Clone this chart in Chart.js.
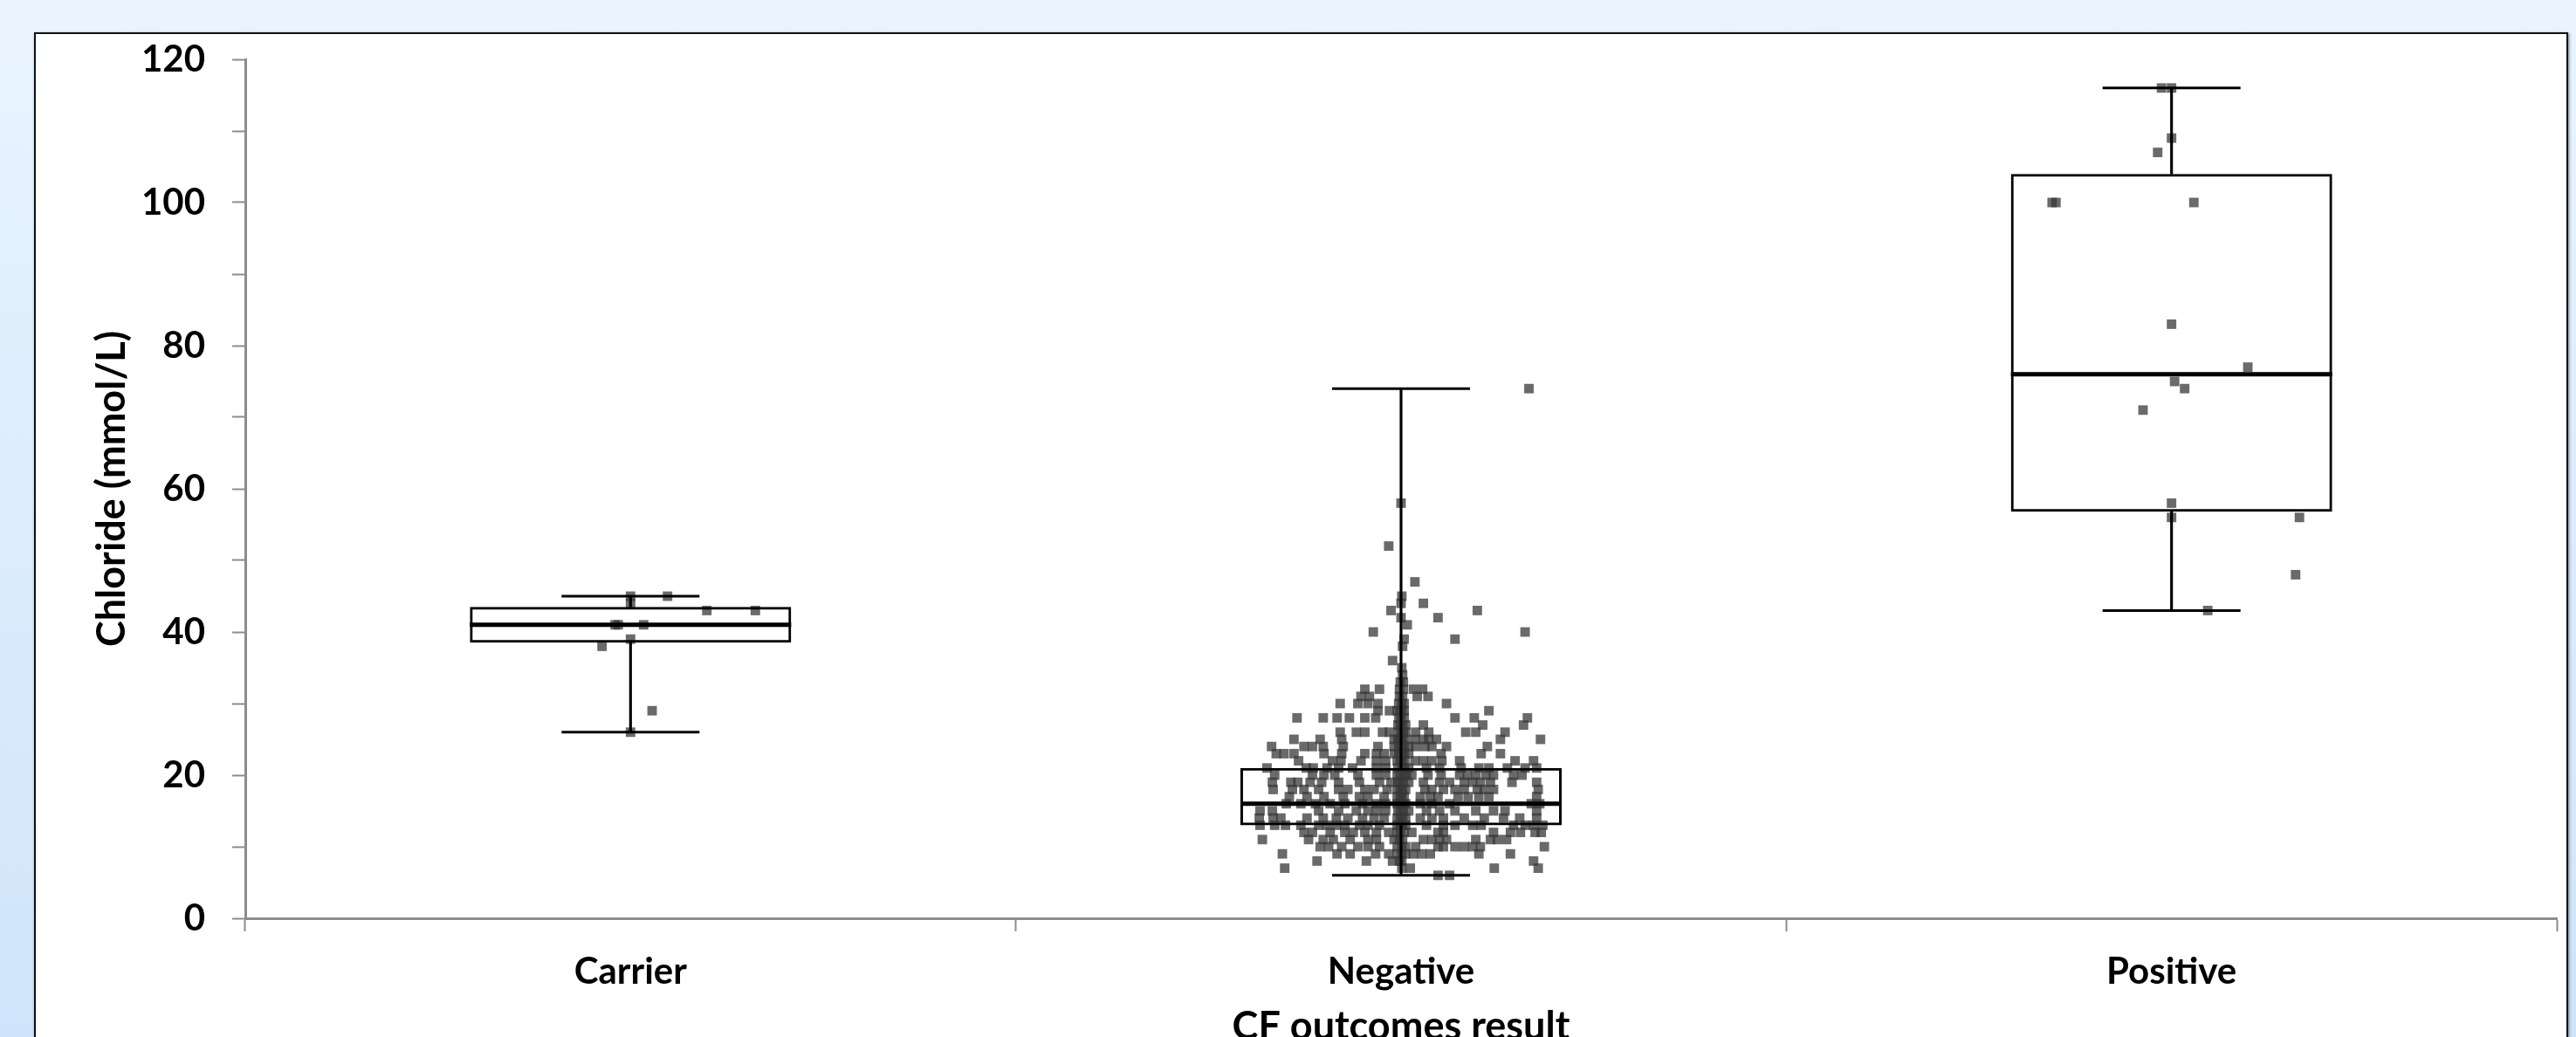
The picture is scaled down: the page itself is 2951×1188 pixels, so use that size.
<!DOCTYPE html>
<html>
<head>
<meta charset="utf-8">
<script src="https://cdn.jsdelivr.net/npm/chart.js@4.4.1/dist/chart.umd.min.js"></script>
<style>
  html, body { margin: 0; padding: 0; width: 2951px; height: 1188px; overflow: hidden; }
  body { position: relative; background: linear-gradient(to bottom, #e9f4fe 0%, #cfe4fa 100%); }
  #panel {
    position: absolute; left: 39px; top: 37px; width: 2903px; height: 1200px;
    box-sizing: border-box; background: #fff; border: 2px solid #111;
    box-shadow: 1px 1px 3px rgba(0,0,0,0.5);
  }
  #chart { position: absolute; left: 0; top: 0; }
</style>
</head>
<body>
<div id="panel"></div>
<canvas id="chart" width="2951" height="1230"></canvas>
<script>
// categories and box summary (mmol/L)
const categories = ['Carrier', 'Negative', 'Positive'];
const whiskerLow = [26, 6, 43];
const quartile1 = [38.5, 13, 56.8];
const medians = [41, 16, 76];
const quartile3 = [43.5, 21, 104];
const whiskerHigh = [45, 74, 116];

const yLabels = [0, 20, 40, 60, 80, 100, 120];

// individual results, jitter is a fraction of the category width
const carrierValues = [45, 45, 44, 43, 43, 41, 41, 41, 39, 38, 29, 26];
const carrierJitter = [0, 0.048, 0, 0.099, 0.162, -0.02, -0.016, 0.017, 0, -0.037, 0.028, 0];

const positiveValues = [116, 116, 109, 107, 100, 100, 100, 83, 77, 75, 74, 71, 58, 56, 56, 48, 43];
const positiveJitter = [-0.013, 0, 0, -0.018, -0.155, -0.15, 0.029, 0, 0.099, 0.004, 0.017, -0.037, 0, 0, 0.166, 0.161, 0.047];

// negative group, one row per chloride level
const negativeLevels = [74, 58, 52, 47, 45, 44, 43, 42, 41, 40, 39, 38, 36, 35, 34, 33, 32, 31, 30, 29, 28, 27,
  26, 25, 24, 23, 22, 21, 20, 19, 18, 17, 16, 15, 14, 13, 12, 11, 10, 9, 8, 7, 6];
const negativeJitter = [
  [0.166],
  [0],
  [-0.016],
  [0.018],
  [0.001],
  [0, 0.029],
  [-0.013, 0.099],
  [0, 0.048],
  [0.008],
  [-0.036, 0.161],
  [0.004, 0.070],
  [0.002],
  [-0.011],
  [0.001],
  [0.002],
  [-0.001, 0.003],
  [-0.047, -0.028, -0.002, 0.003, 0.016, 0.028],
  [-0.052, -0.041, -0.002, 0.002, 0.021, 0.035],
  [-0.079, -0.056, -0.043, -0.030, -0.003, 0.001, 0.004, 0.059],
  [-0.030, -0.015, -0.005, -0.002, 0.001, 0.004, 0.114],
  [-0.135, -0.101, -0.083, -0.067, -0.047, -0.033, -0.003, 0, 0.004, 0.070, 0.095, 0.164],
  [-0.004, -0.001, 0.002, 0.006, 0.029, 0.106, 0.159],
  [-0.079, -0.058, -0.047, -0.024, -0.015, -0.003, 0, 0.003, 0.006, 0.019, 0.036, 0.084, 0.097, 0.135],
  [-0.139, -0.105, -0.077, -0.009, -0.004, -0.001, 0.002, 0.006, 0.018, 0.029, 0.036, 0.046, 0.129, 0.181],
  [-0.168, -0.126, -0.115, -0.101, -0.075, -0.030, -0.009, -0.003, 0.001, 0.004, 0.010, 0.019, 0.031, 0.040, 0.059, 0.112],
  [-0.162, -0.152, -0.139, -0.100, -0.077, -0.047, -0.032, -0.022, -0.009, -0.003, 0.001, 0.004, 0.010, 0.052, 0.104, 0.129],
  [-0.133, -0.089, -0.078, -0.052, -0.032, -0.020, -0.005, -0.001, 0.002, 0.005, 0.018, 0.029, 0.040, 0.053, 0.076, 0.148, 0.172],
  [-0.174, -0.123, -0.114, -0.096, -0.081, -0.063, -0.032, -0.020, -0.004, 0.001, 0.004, 0.010, 0.033, 0.050, 0.078, 0.101, 0.114, 0.138, 0.161, 0.176],
  [-0.164, -0.115, -0.100, -0.086, -0.056, -0.032, -0.020, -0.005, -0.001, 0.004, 0.007, 0.014, 0.035, 0.052, 0.076, 0.086, 0.097, 0.110, 0.120, 0.146, 0.157],
  [-0.167, -0.143, -0.134, -0.118, -0.103, -0.081, -0.054, -0.028, -0.013, -0.004, -0.001, 0.003, 0.010, 0.029, 0.050, 0.063, 0.082, 0.093, 0.103, 0.116, 0.144, 0.176],
  [-0.166, -0.141, -0.126, -0.107, -0.081, -0.069, -0.047, -0.035, -0.018, -0.005, -0.001, 0.002, 0.006, 0.031, 0.040, 0.055, 0.070, 0.082, 0.099, 0.108, 0.120, 0.178],
  [-0.145, -0.122, -0.100, -0.075, -0.054, -0.043, -0.022, -0.005, -0.001, 0.001, 0.004, 0.025, 0.038, 0.048, 0.074, 0.087, 0.101, 0.114, 0.176],
  [-0.149, -0.130, -0.111, -0.092, -0.073, -0.050, -0.032, -0.020, -0.005, -0.001, 0.002, 0.006, 0.025, 0.040, 0.063, 0.169, 0.180],
  [-0.183, -0.167, -0.107, -0.081, -0.058, -0.043, -0.032, -0.020, -0.004, -0.001, 0.003, 0.010, 0.033, 0.050, 0.070, 0.097, 0.120, 0.135, 0.176],
  [-0.184, -0.166, -0.156, -0.122, -0.101, -0.084, -0.069, -0.050, -0.035, -0.022, -0.005, -0.001, 0.002, 0.006, 0.025, 0.040, 0.055, 0.082, 0.108, 0.133, 0.154, 0.176],
  [-0.183, -0.164, -0.150, -0.130, -0.107, -0.096, -0.084, -0.073, -0.054, -0.043, -0.028, -0.005, -0.001, 0.002, 0.006, 0.033, 0.055, 0.070, 0.093, 0.104, 0.146, 0.161, 0.172, 0.184],
  [-0.126, -0.115, -0.092, -0.073, -0.062, -0.047, -0.032, -0.016, -0.005, -0.001, 0.004, 0.014, 0.048, 0.055, 0.120, 0.142, 0.155, 0.174, 0.182],
  [-0.180, -0.120, -0.101, -0.088, -0.066, -0.043, -0.032, -0.009, -0.002, 0.002, 0.029, 0.040, 0.050, 0.059, 0.097, 0.116, 0.125, 0.137],
  [-0.105, -0.094, -0.077, -0.056, -0.043, -0.028, -0.005, 0.001, 0.006, 0.019, 0.048, 0.055, 0.070, 0.082, 0.093, 0.103, 0.186],
  [-0.154, -0.083, -0.066, -0.033, -0.016, -0.005, 0.001, 0.006, 0.016, 0.027, 0.038, 0.101, 0.142],
  [-0.109, -0.045, -0.011, -0.002, 0.001, 0.172],
  [-0.151, 0.001, 0.012, 0.121, 0.178],
  [0.048, 0.063]
];

function toPoints(catIndex, values, jitter) {
  return values.map((v, i) => ({ x: catIndex + 0.5 + jitter[i], y: v }));
}

var negativePoints = [];
negativeLevels.forEach((level, r) => {
  negativeJitter[r].forEach(j => negativePoints.push({ x: 1.5 + j, y: level }));
});

const labelFont = { family: 'Lato', weight: 'bold', size: 42 };
const titleFont = { family: 'Lato', weight: 'bold', size: 45 };
const axisGrey = '#8c8c8c';

const dots = {
  type: 'scatter',
  xAxisID: 'xj',
  pointStyle: 'rect',
  pointRadius: 7.7,
  pointBackgroundColor: 'rgba(56,56,56,0.75)',
  pointBorderWidth: 0,
  order: 2
};

var ctx = document.getElementById('chart').getContext('2d');

var chart = new Chart(ctx, {
  type: 'bar',
  data: {
    labels: categories,
    datasets: [
      {
        label: 'IQR',
        data: categories.map((c, i) => [quartile1[i], quartile3[i]]),
        backgroundColor: 'rgba(255,255,255,0)',
        borderColor: '#000',
        borderWidth: 3,
        borderSkipped: false,
        barPercentage: 0.417,
        categoryPercentage: 1,
        grouped: false,
        order: 0
      },
      {
        label: 'upper whisker',
        data: categories.map((c, i) => [quartile3[i], whiskerHigh[i]]),
        backgroundColor: '#000',
        barThickness: 2.5,
        grouped: false,
        order: 0
      },
      {
        label: 'lower whisker',
        data: categories.map((c, i) => [whiskerLow[i], quartile1[i]]),
        backgroundColor: '#000',
        barThickness: 2.5,
        grouped: false,
        order: 0
      },
      {
        type: 'scatter',
        label: 'median',
        xAxisID: 'xj',
        data: categories.map((c, i) => ({ x: i + 0.5, y: medians[i] })),
        pointStyle: 'line',
        pointRadius: 184,
        pointBorderWidth: 5,
        pointBorderColor: '#000',
        order: 0
      },
      {
        type: 'scatter',
        label: 'caps',
        xAxisID: 'xj',
        data: categories.map((c, i) => ({ x: i + 0.5, y: whiskerLow[i] }))
          .concat(categories.map((c, i) => ({ x: i + 0.5, y: whiskerHigh[i] }))),
        pointStyle: 'line',
        pointRadius: 79,
        pointBorderWidth: 3,
        pointBorderColor: '#000',
        order: 0
      },
      Object.assign({ label: 'Carrier', data: toPoints(0, carrierValues, carrierJitter) }, dots),
      Object.assign({ label: 'Negative', data: negativePoints }, dots),
      Object.assign({ label: 'Positive', data: toPoints(2, positiveValues, positiveJitter) }, dots)
    ]
  },
  options: {
    responsive: false,
    animation: false,
    devicePixelRatio: 1,
    layout: { autoPadding: false, padding: { left: 0, top: 68, right: 22, bottom: 0 } },
    plugins: { legend: { display: false }, tooltip: { enabled: false } },
    scales: {
      x: {
        type: 'category',
        offset: true,
        grid: { offset: true, drawOnChartArea: false, tickLength: 15, tickColor: axisGrey, tickWidth: 2 },
        border: { color: axisGrey, width: 3 },
        ticks: { color: '#000', font: labelFont, padding: 21 },
        title: { display: true, text: 'CF outcomes result', color: '#000', font: titleFont, padding: { top: 0, bottom: 27 } },
        afterFit: function(scale) { scale.height = 178; }
      },
      // hidden linear twin of the category axis, used for the jittered dots
      xj: { type: 'linear', min: 0, max: 3, offset: false, grid: { offset: false }, display: false },
      y: {
        min: 0,
        max: 120,
        ticks: {
          stepSize: 10,
          color: '#000',
          font: labelFont,
          padding: 31,
          callback: v => yLabels.includes(v) ? v : ''
        },
        grid: { drawOnChartArea: false, tickLength: 15, tickColor: axisGrey, tickWidth: 2 },
        border: { color: axisGrey, width: 3 },
        title: { display: true, text: 'Chloride (mmol/L)', color: '#000', font: titleFont, padding: { top: 101, bottom: 0 } },
        afterFit: function(scale) { scale.width = 281; }
      }
    }
  }
});
</script>
</body>
</html>
